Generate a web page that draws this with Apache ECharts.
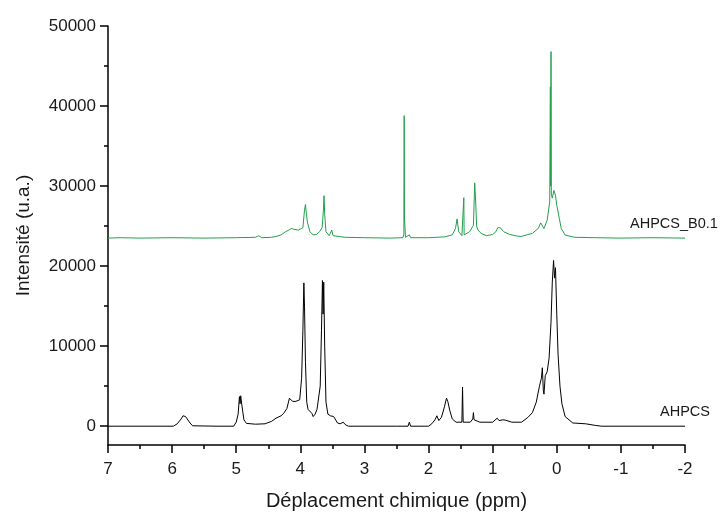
<!DOCTYPE html>
<html>
<head>
<meta charset="utf-8">
<script src="https://cdn.jsdelivr.net/npm/echarts@6/dist/echarts.min.js"></script>
<style>
html,body{margin:0;padding:0;background:#fff;}
#c{width:721px;height:516px;}
</style>
</head>
<body>
<div id="c"></div>
<script>
// ---- data ----
const xTicks = [7, 6, 5, 4, 3, 2, 1, 0, -1, -2];
const yTickLabels = [0, 10000, 20000, 30000, 40000, 50000];
const yMinorTicks = [5000, 15000, 25000, 35000, 45000];
const seriesNames = ['AHPCS', 'AHPCS_B0.1'];

const ahpcsPpm = [7.0, 6.5, 5.98, 5.92, 5.86, 5.83, 5.81, 5.79, 5.76, 5.72, 5.68, 5.3, 5.04, 5.00, 4.97, 4.95, 4.94, 4.93, 4.91, 4.88, 4.84, 4.70, 4.55, 4.45, 4.38, 4.30, 4.26, 4.21, 4.17, 4.15, 4.12, 4.10, 4.07, 4.04, 4.01, 3.98, 3.96, 3.945, 3.935, 3.92, 3.90, 3.88, 3.85, 3.82, 3.80, 3.77, 3.74, 3.71, 3.69, 3.67, 3.655, 3.645, 3.635, 3.62, 3.60, 3.57, 3.53, 3.48, 3.45, 3.42, 3.38, 3.33, 3.30, 3.25, 2.5, 2.32, 2.30, 2.28, 2.0, 1.95, 1.90, 1.87, 1.84, 1.80, 1.77, 1.75, 1.72, 1.70, 1.67, 1.63, 1.57, 1.48, 1.47, 1.46, 1.35, 1.31, 1.30, 1.29, 1.20, 1.00, 0.93, 0.90, 0.84, 0.80, 0.70, 0.55, 0.45, 0.38, 0.32, 0.27, 0.24, 0.225, 0.21, 0.20, 0.18, 0.15, 0.12, 0.09, 0.07, 0.05, 0.035, 0.02, 0.0, -0.02, -0.05, -0.08, -0.13, -0.25, -0.45, -0.6, -0.7, -2.0];
const ahpcsVal = [0, 0, 0, 300, 900, 1300, 1450, 1200, 1000, 400, 50, 0, 0, 500, 1500, 3700, 2800, 3800, 2500, 800, 350, 250, 300, 600, 1000, 1300, 1600, 2200, 3500, 3700, 3100, 3300, 3100, 2900, 3300, 6000, 12000, 17900, 15000, 8000, 3000, 2100, 1900, 1600, 1200, 1500, 2100, 2300, 5000, 12000, 18200, 14000, 18000, 10000, 3000, 1500, 1300, 1200, 1100, 400, 300, 500, 200, 0, 0, 0, 500, 0, 0, 300, 800, 1300, 700, 1100, 1900, 2500, 3500, 3100, 2000, 900, 500, 500, 4900, 500, 500, 900, 1700, 800, 500, 500, 1000, 700, 800, 750, 500, 500, 1100, 1700, 3000, 5000, 6000, 7300, 4500, 4000, 6300, 6800, 8500, 13000, 18000, 20700, 18500, 19800, 14000, 9000, 5000, 2800, 1200, 400, 300, 100, 0, 0];

const b01Ppm = [7.0, 6.8, 6.5, 6.0, 5.5, 5.0, 4.7, 4.65, 4.6, 4.45, 4.38, 4.30, 4.23, 4.18, 4.14, 4.10, 4.07, 4.03, 4.00, 3.96, 3.935, 3.92, 3.905, 3.89, 3.85, 3.80, 3.75, 3.70, 3.66, 3.64, 3.63, 3.62, 3.60, 3.55, 3.51, 3.49, 3.30, 3.0, 2.6, 2.40, 2.385, 2.38, 2.375, 2.36, 2.30, 2.28, 2.0, 1.75, 1.63, 1.58, 1.555, 1.53, 1.48, 1.455, 1.45, 1.445, 1.36, 1.30, 1.28, 1.265, 1.25, 1.23, 1.18, 1.10, 1.00, 0.95, 0.92, 0.90, 0.88, 0.86, 0.83, 0.74, 0.65, 0.56, 0.38, 0.29, 0.25, 0.23, 0.20, 0.15, 0.11, 0.10, 0.095, 0.09, 0.085, 0.07, 0.045, 0.02, 0.0, -0.04, -0.07, -0.13, -0.28, -0.6, -1.0, -1.5, -2.0];
const b01Val = [23500, 23550, 23500, 23550, 23500, 23550, 23600, 23800, 23550, 23600, 23700, 23900, 24300, 24500, 24700, 24600, 24800, 24500, 24600, 24800, 27000, 27700, 26500, 25500, 24300, 23900, 23950, 24300, 24800, 27000, 28800, 26500, 24300, 23800, 24500, 23800, 23600, 23550, 23500, 23550, 24000, 38800, 26000, 23600, 23900, 23550, 23550, 23650, 23900, 24700, 25900, 24300, 23800, 23900, 28550, 23900, 24300, 25100, 30400, 28000, 25000, 24500, 24100, 23800, 23950, 24300, 24800, 25000, 24800, 24900, 24300, 23970, 23800, 23700, 24100, 24700, 25400, 25600, 24700, 25750, 28000, 42400, 30000, 46800, 29000, 28500, 29460, 28840, 27600, 25950, 24700, 23880, 23600, 23550, 23500, 23550, 23500];

// ---- chart ----
const FONT = "'Liberation Sans', Arial, sans-serif";
const chart = echarts.init(document.getElementById('c'), null, {renderer: 'canvas'});
const zip = (a, b) => a.map((v, i) => [v, b[i]]);

chart.setOption({
  animation: false,
  backgroundColor: '#fff',
  grid: {left: 108, right: 36, top: 26, bottom: 68, containLabel: false},
  xAxis: {
    type: 'value', inverse: true, min: -2, max: 7, interval: 1,
    name: 'Déplacement chimique (ppm)', nameLocation: 'middle', nameGap: 46,
    nameTextStyle: {fontFamily: FONT, fontSize: 20, color: '#1a1a1a'},
    axisLine: {show: true, onZero: false, lineStyle: {color: '#000', width: 1.5}},
    axisTick: {show: true, length: 8, lineStyle: {color: '#000', width: 1.5}},
    minorTick: {show: true, splitNumber: 2, length: 4, lineStyle: {color: '#000', width: 1.5}},
    axisLabel: {fontFamily: FONT, fontSize: 17, color: '#1a1a1a', margin: 16,
      formatter: v => xTicks.includes(v) ? String(v) : ''},
    splitLine: {show: false}
  },
  yAxis: [{
    type: 'value', min: -2350, max: 50000,
    name: 'Intensité (u.a.)', nameLocation: 'middle', nameGap: 75, nameRotate: 90,
    nameTextStyle: {fontFamily: FONT, fontSize: 19, color: '#1a1a1a'},
    axisLine: {show: true, onZero: false, lineStyle: {color: '#000', width: 1.5}},
    axisTick: {show: true, length: 8, customValues: yTickLabels, lineStyle: {color: '#000', width: 1.5}},
    axisLabel: {fontFamily: FONT, fontSize: 17, color: '#1a1a1a', margin: 12, customValues: yTickLabels,
      formatter: v => String(v)},
    splitLine: {show: false}
  }, {
    type: 'value', min: -2350, max: 50000, position: 'left', offset: 0,
    axisLine: {show: false, onZero: false},
    axisTick: {show: true, length: 4, customValues: yMinorTicks, lineStyle: {color: '#000', width: 1.5}},
    axisLabel: {show: false},
    splitLine: {show: false}
  }],
  series: [{
    name: seriesNames[0], type: 'line', yAxisIndex: 0, showSymbol: false, silent: true,
    lineStyle: {color: '#000', width: 1}, data: zip(ahpcsPpm, ahpcsVal)
  }, {
    name: seriesNames[1], type: 'line', yAxisIndex: 0, showSymbol: false, silent: true,
    lineStyle: {color: '#22a04c', width: 1}, data: zip(b01Ppm, b01Val)
  }]
});

const pEndBlack = chart.convertToPixel({gridIndex: 0}, [xTicks[xTicks.length - 1], ahpcsVal[ahpcsVal.length - 1]]);
const pEndGreen = chart.convertToPixel({gridIndex: 0}, [xTicks[xTicks.length - 1], b01Val[b01Val.length - 1]]);
chart.setOption({
  graphic: [
    {type: 'text', left: pEndGreen[0] - 55, top: pEndGreen[1] - 22,
      style: {text: seriesNames[1], font: "14.5px " + FONT, fill: '#1a1a1a'}},
    {type: 'text', left: pEndBlack[0] - 25, top: pEndBlack[1] - 22,
      style: {text: seriesNames[0], font: "14.5px " + FONT, fill: '#1a1a1a'}}
  ]
});
</script>
</body>
</html>
